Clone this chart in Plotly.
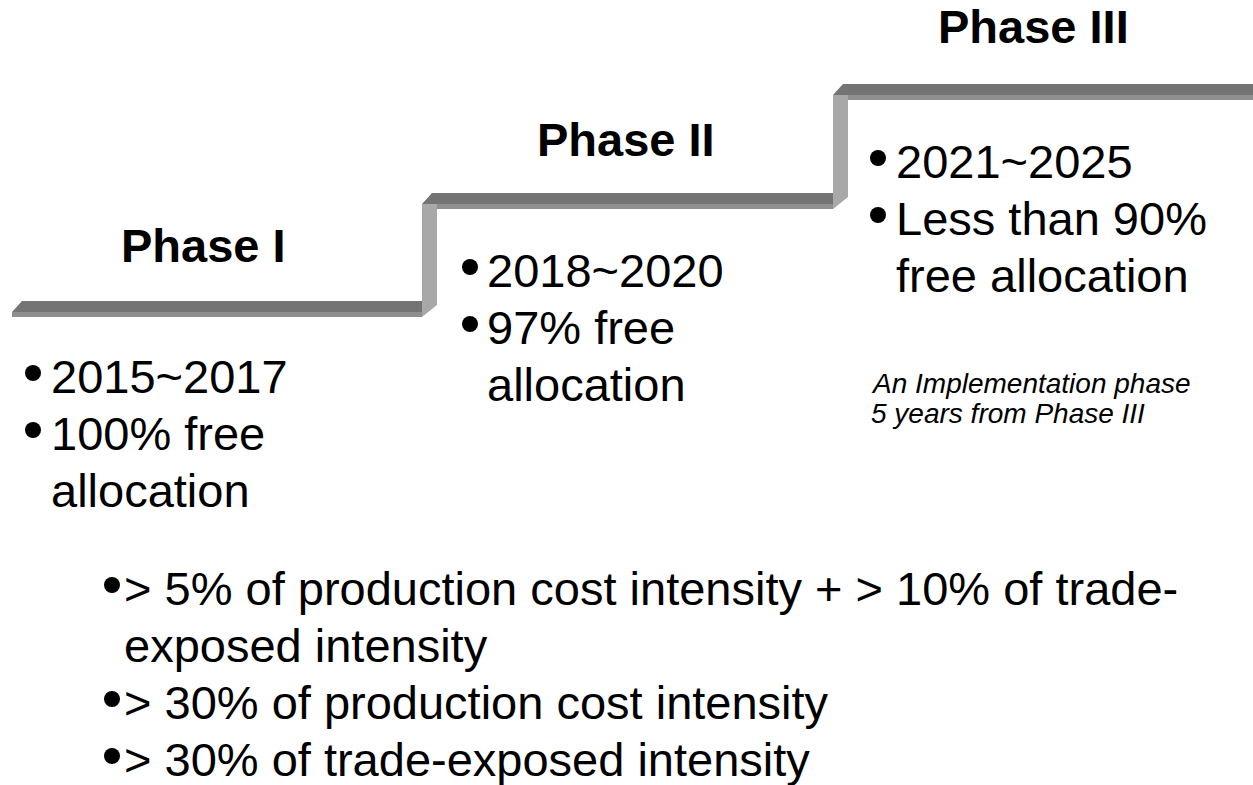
import plotly.graph_objects as go

# ---- content ----
phase_names = ["Phase I", "Phase II", "Phase III"]
phase_lines = [
    ["2015~2017", "100% free", "allocation"],
    ["2018~2020", "97% free", "allocation"],
    ["2021~2025", "Less than 90%", "free allocation"],
]
note_lines = ["An Implementation phase", "5 years from Phase III"]
criteria_lines = [
    "> 5% of production cost intensity + > 10% of trade-",
    "exposed intensity",
    "> 30% of production cost intensity",
    "> 30% of trade-exposed intensity",
]
criteria_bullet_flags = [True, False, True, True]

# ---- layout geometry (page pixel space) ----
W, H = 1253, 785
step_top = [301, 193, 84]          # top edge of each tread
step_left = [12, 422, 833]
step_right = [422, 833, 1253]
riser_x = [422, 833]
FACE, FRONT, DX, RW = 11, 5, 10, 15

title_cx = [203, 626, 1033]
title_base = [262, 156, 43]
block_bullet_x = [33, 470, 878]
block_text_x = [49, 485, 894]
block_base0 = [393, 287, 178]
PITCH = 57
BODY = 47

FONT = "Liberation Sans, Arial, sans-serif"

fig = go.Figure()
shapes = []

def poly(pts, color):
    d = "M " + " L ".join(f"{x},{y}" for x, y in pts) + " Z"
    return dict(type="path", path=d, xref="x", yref="y",
                fillcolor=color, line=dict(width=0), layer="below")

TOP_C, FRONT_C, RISER_C = "#747474", "#8f8f8f", "#a8a8a8"
for k in range(3):
    t = step_top[k]
    L, R = step_left[k], step_right[k]
    rdx = DX if k < 2 else 0
    shapes.append(poly([(L, t + FACE), (L + DX, t), (R + rdx, t), (R, t + FACE)], TOP_C))
    fl = L if k == 0 else L + RW
    shapes.append(poly([(fl, t + FACE), (R, t + FACE), (R, t + FACE + FRONT), (fl, t + FACE + FRONT)], FRONT_C))
for k in range(2):
    xr = riser_x[k]
    top = step_top[k + 1] + FACE
    bot = step_top[k] + FACE + FRONT
    shapes.append(poly([(xr, top), (xr + RW, top), (xr + RW, bot - 12), (xr, bot)], RISER_C))

annotations = []

def text(x, base, s, size, anchor="left", bold=False, italic=False):
    y = base - 0.3465 * size
    if bold:
        s = f"<b>{s}</b>"
    if italic:
        s = f"<i>{s}</i>"
    annotations.append(dict(x=x, y=y, xref="x", yref="y", text=s, showarrow=False,
                            xanchor=anchor, yanchor="middle",
                            font=dict(family=FONT, size=size, color="black")))

bx, by = [], []
for k in range(3):
    text(title_cx[k], title_base[k], phase_names[k], BODY, anchor="center", bold=True)
    for i, line in enumerate(phase_lines[k]):
        base = block_base0[k] + i * PITCH
        text(block_text_x[k], base, line, BODY)
        if i < 2:
            bx.append(block_bullet_x[k])
            by.append(base - 20)

for i, line in enumerate(note_lines):
    text(869, 393 + i * 30, line, 28, italic=True)

crit_bullet_x, crit_text_x, crit_base0 = 112, 122, 605
for i, line in enumerate(criteria_lines):
    base = crit_base0 + i * PITCH
    text(crit_text_x, base, line, BODY)
    if criteria_bullet_flags[i]:
        bx.append(crit_bullet_x)
        by.append(base - 20)

fig.add_trace(go.Scatter(x=bx, y=by, mode="markers",
                         marker=dict(symbol="circle", size=16, color="black"),
                         hoverinfo="skip", showlegend=False))

fig.update_layout(
    width=W, height=H, margin=dict(l=0, r=0, t=0, b=0),
    paper_bgcolor="white", plot_bgcolor="white",
    xaxis=dict(range=[0, W], visible=False, fixedrange=True),
    yaxis=dict(range=[H, 0], visible=False, fixedrange=True),
    shapes=shapes, annotations=annotations, showlegend=False,
)

fig.write_html("out.html",
               config={"displayModeBar": False, "staticPlot": True},
               post_script="document.body.style.margin='0px';document.body.style.overflow='hidden';")
